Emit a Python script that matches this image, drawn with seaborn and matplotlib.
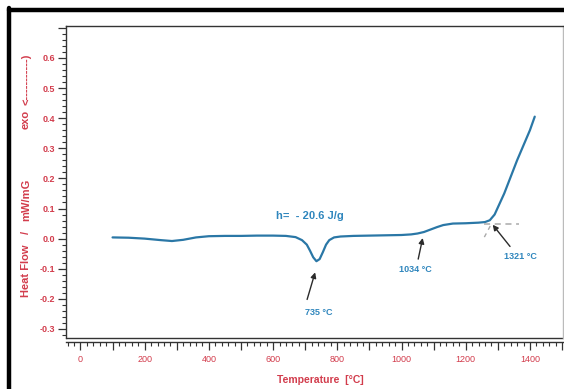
import numpy as np
import pandas as pd
import matplotlib
matplotlib.use("Agg")
import matplotlib.pyplot as plt
from matplotlib.ticker import MultipleLocator, FuncFormatter
from matplotlib.lines import Line2D
import seaborn as sns

# ---- data ----
temperature = [100, 150, 200, 250, 285, 320, 360, 400, 450, 500, 550, 600, 640, 670,
               690, 705, 715, 725, 735, 745, 755, 765, 775, 790, 810, 850, 900, 950,
               1000, 1030, 1050, 1070, 1090, 1110, 1130, 1160, 1200, 1240, 1260, 1275,
               1290, 1305, 1320, 1340, 1360, 1380, 1400, 1415]
heat_flow = [0.004, 0.003, 0.000, -0.005, -0.008, -0.004, 0.004, 0.008, 0.009, 0.009,
             0.010, 0.010, 0.009, 0.005, -0.005, -0.020, -0.040, -0.062, -0.075, -0.068,
             -0.045, -0.020, -0.005, 0.004, 0.007, 0.009, 0.010, 0.011, 0.012, 0.014,
             0.017, 0.022, 0.030, 0.038, 0.045, 0.050, 0.051, 0.053, 0.055, 0.061,
             0.080, 0.115, 0.150, 0.205, 0.260, 0.310, 0.360, 0.405]

onset_level = 0.05
onset_h_x = [1258, 1365]
onset_t_x = [1258, 1278]
onset_t_y = [0.005, 0.045]

annotations = [  # text, text_x, text_y, tip_x, tip_y, tail_x, tail_y
    ("735 °C", 743, -0.245, 731, -0.112, 706, -0.202),
    ("1034 °C", 1042, -0.103, 1066, 0.002, 1052, -0.068),
    ("1321 °C", 1370, -0.058, 1284, 0.046, 1338, -0.026),
]
enthalpy_label = "h=  - 20.6 J/g"
xlabel = "Temperature  [°C]"
ylabel_parts = ["Heat Flow", "/", "mW/mG", "exo", "<-----------)"]
ylabel_pos = [271, 232, 200, 119, 79]   # vertical pixel centres of the pieces

# ---- style ----
sns.set_style("white")
plt.rcParams["font.family"] = ["Liberation Sans", "DejaVu Sans"]

LINE = "#2a77a6"
TXT_BLUE = "#2f86bd"
RED = "#d23c4c"

fig = plt.figure(figsize=(5.64, 3.89), dpi=100)
W, H = 564, 389
ax = fig.add_axes([66 / W, (H - 338) / H, (563 - 66) / W, (338 - 26) / H])

df = pd.DataFrame({"Temperature": temperature, "HeatFlow": heat_flow})
sns.lineplot(data=df, x="Temperature", y="HeatFlow", ax=ax, color=LINE, lw=1.6)

# onset construction lines
ax.plot(onset_h_x, [onset_level, onset_level], ls=(0, (4, 3)), color="#aaaaaa", lw=1.1)
ax.plot(onset_t_x, onset_t_y, ls=(0, (3, 3)), color="#aaaaaa", lw=1.0)

ax.set_xlim(-45, 1503)
ax.set_ylim(-0.33, 0.706)

for text, tx, ty, hx, hy, sx, sy in annotations:
    ax.annotate("", xy=(hx, hy), xytext=(sx, sy),
                arrowprops=dict(arrowstyle="-|>", color="#2b2b2b", lw=1.0,
                                mutation_scale=8, shrinkA=0, shrinkB=0))
    ax.text(tx, ty, text, color=TXT_BLUE, fontsize=6.5, fontweight="bold",
            ha="center", va="center")

ax.text(716, 0.076, enthalpy_label, color=TXT_BLUE, fontsize=8, fontweight="bold",
        ha="center", va="center")

# ticks
ax.xaxis.set_major_locator(MultipleLocator(100))
ax.xaxis.set_minor_locator(MultipleLocator(20))
ax.xaxis.set_major_formatter(FuncFormatter(lambda v, p: f"{int(round(v))}" if int(round(v)) % 200 == 0 else ""))
ax.yaxis.set_major_locator(MultipleLocator(0.1))
ax.yaxis.set_minor_locator(MultipleLocator(0.02))
ax.yaxis.set_major_formatter(FuncFormatter(lambda v, p: f"{v:.1f}" if v <= 0.65 else ""))

ax.tick_params(axis="both", which="major", direction="out", length=6, width=0.9,
               color="#333333", labelcolor=RED, labelsize=6.5, bottom=True, left=True)
ax.tick_params(axis="both", which="minor", direction="out", length=3, width=0.8,
               color="#333333", bottom=True, left=True)
ax.tick_params(axis="x", which="major", pad=3)
ax.tick_params(axis="y", which="major", pad=2)
for lab in ax.get_xticklabels() + ax.get_yticklabels():
    lab.set_fontweight("bold")

for side in ["left", "top", "right", "bottom"]:
    ax.spines[side].set_visible(True)
    ax.spines[side].set_color("#333333")
    ax.spines[side].set_linewidth(1.0)
ax.spines["right"].set_color("#bbbbbb")
ax.spines["bottom"].set_position(("outward", 3))
# inner bottom edge of the plot box
ax.plot([0, 1], [0, 0], transform=ax.transAxes, color="#333333", lw=1.0, clip_on=False)

ax.set_xlabel("")
ax.set_ylabel("")
fig.text(320 / W, 1 - 380 / H, xlabel, color=RED, fontsize=7.5, fontweight="bold",
         ha="center", va="center")
for part, py in zip(ylabel_parts, ylabel_pos):
    fig.text(26 / W, 1 - py / H, part, color=RED, fontsize=8, fontweight="bold",
             ha="center", va="center", rotation=90)

# outer black frame (top and left edges)
fig.add_artist(Line2D([9 / W, 1], [1 - 10 / H, 1 - 10 / H], transform=fig.transFigure,
                      color="black", lw=3.2))
fig.add_artist(Line2D([9 / W, 9 / W], [0, 1 - 8 / H], transform=fig.transFigure,
                      color="black", lw=3.2))

fig.savefig("out.png", dpi=100)
